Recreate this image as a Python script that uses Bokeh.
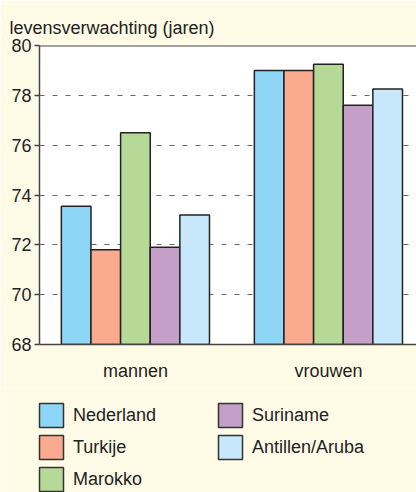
from bokeh.plotting import figure
from bokeh.layouts import column
from bokeh.models import Range1d, FixedTicker, Legend, LegendItem, ColumnDataSource, Span
from bokeh.embed import file_html
from bokeh.resources import INLINE

# ---- data ----
groups = ["mannen", "vrouwen"]
countries = ["Nederland", "Turkije", "Marokko", "Suriname", "Antillen/Aruba"]
nederland = [73.55, 79.0]
turkije = [71.8, 79.0]
marokko = [76.5, 79.25]
suriname = [71.9, 77.6]
antillen = [73.2, 78.25]
y_ticks = [68, 70, 72, 74, 76, 78, 80]
title_text = "levensverwachting (jaren)"

series = [nederland, turkije, marokko, suriname, antillen]
colors = ["#8DD6F6", "#F9AA8F", "#B7D998", "#C4A0C8", "#C6E8FA"]

BG = "#FFFBE6"
FONT = "Liberation Sans"
FS = "18px"
DARK = "#444444"

bar_w = 0.1535
group_centers = [i + 0.5 for i in range(len(groups))]

p = figure(width=416, height=388, output_backend="svg", toolbar_location=None,
           x_range=Range1d(0.003, 0.003 + 377 / 193),
           y_range=Range1d(y_ticks[0], y_ticks[-1]),
           min_border_left=39, min_border_right=0, min_border_top=45,
           min_border_bottom=44,
           background_fill_color="white", border_fill_color=BG)
p.outline_line_color = None

p.title.text = title_text
p.title.text_font = FONT
p.title.text_font_size = FS
p.title.text_font_style = "normal"
p.title.text_color = "#222222"
p.title.align = "left"
p.title.offset = -30
p.title.standoff = 16

# axes
p.yaxis.ticker = FixedTicker(ticks=y_ticks)
p.yaxis.major_tick_in = 0
p.yaxis.major_tick_out = 5
p.yaxis.minor_tick_in = 0
p.yaxis.minor_tick_out = 0
p.yaxis.major_label_standoff = 3
p.xaxis.ticker = FixedTicker(ticks=group_centers)
p.xaxis.major_label_overrides = {c: g for c, g in zip(group_centers, groups)}
p.xaxis.major_tick_in = 0
p.xaxis.major_tick_out = 0
p.xaxis.minor_tick_in = 0
p.xaxis.minor_tick_out = 0
p.xaxis.major_label_standoff = 16
for ax in (p.xaxis, p.yaxis):
    ax.axis_line_color = DARK
    ax.axis_line_width = 1.5
    ax.major_tick_line_color = DARK
    ax.major_tick_line_width = 1.5
    ax.major_label_text_font = FONT
    ax.major_label_text_font_size = FS
    ax.major_label_text_color = "#222222"

p.xgrid.visible = False
p.ygrid.ticker = FixedTicker(ticks=y_ticks[1:-1])
p.ygrid.grid_line_color = "#666666"
p.ygrid.grid_line_dash = "5 8"
p.ygrid.grid_line_width = 1

p.add_layout(Span(location=y_ticks[-1], dimension="width",
                  line_color=DARK, line_width=2))

sources = []
for k, (name, vals, col) in enumerate(zip(countries, series, colors)):
    xs = [c + (k - (len(countries) - 1) / 2) * bar_w for c in group_centers]
    src = ColumnDataSource(dict(x=xs, top=vals))
    sources.append(src)
    p.vbar(x="x", top="top", bottom=y_ticks[0], width=bar_w, source=src,
           fill_color=col, line_color="#222222", line_width=1.5)

# ---- legend panel (legend-only figure; its renderers are hidden) ----
pl = figure(width=416, height=104, output_backend="svg", toolbar_location=None,
            x_axis_type=None, y_axis_type=None,
            min_border=0, min_border_left=0, min_border_right=0,
            min_border_top=0, min_border_bottom=0,
            background_fill_color=BG, border_fill_color=BG)
pl.outline_line_color = None
pl.grid.visible = False
lx = 36
if "frame_align" in pl.properties():
    pl.frame_align = False
else:
    lx = -3
items = []
for name, col, src in zip(countries, colors, sources):
    r = pl.vbar(x="x", top="top", width=bar_w, source=src, fill_color=col,
                line_color="#333333", line_width=1.5, visible=False)
    items.append(LegendItem(label=name, renderers=[r]))

legend = Legend(items=items, location=(lx, -2), orientation="vertical", nrows=3,
                glyph_width=30, glyph_height=30, spacing=2, padding=0, margin=0,
                label_standoff=7, label_width=140, label_text_font=FONT,
                label_text_font_size=FS, label_text_color="#222222", label_height=20,
                border_line_alpha=0, background_fill_alpha=0,
                inactive_fill_alpha=0)
pl.add_layout(legend)

layout = column(p, pl, spacing=0)
open("out.html", "w").write(file_html(layout, INLINE))
